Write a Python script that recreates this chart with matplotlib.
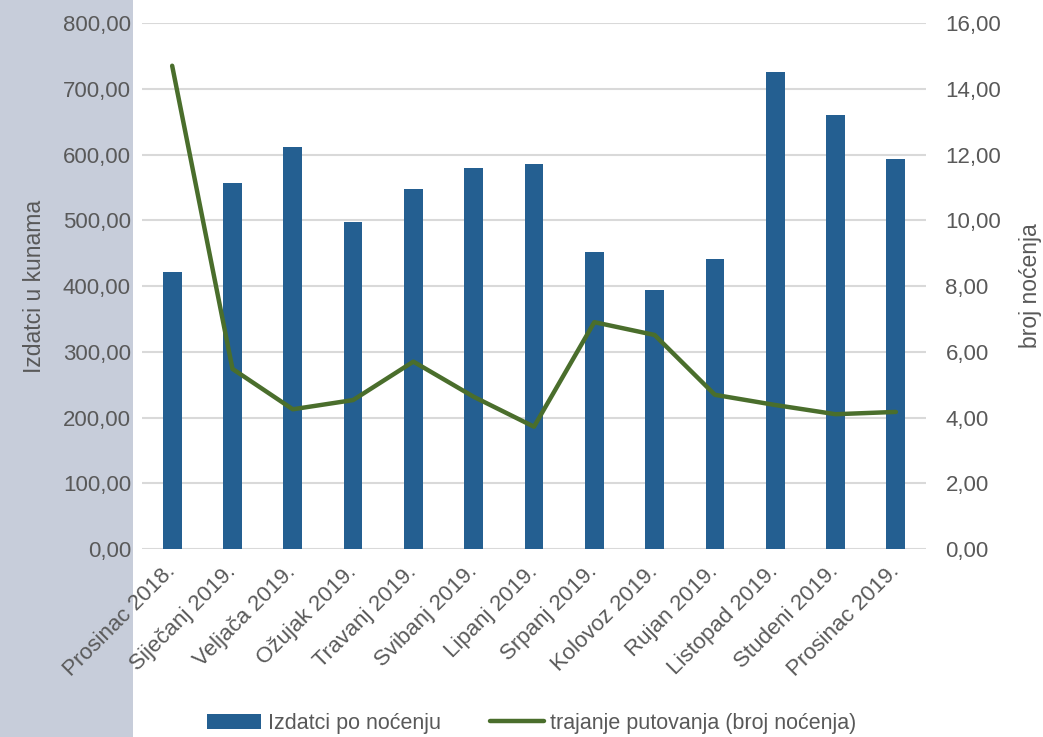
import numpy as np
import matplotlib.pyplot as plt
from matplotlib.patches import Rectangle
from matplotlib.ticker import FuncFormatter

# --- data ---
months = ["Prosinac 2018.", "Siječanj 2019.", "Veljača 2019.", "Ožujak 2019.",
          "Travanj 2019.", "Svibanj 2019.", "Lipanj 2019.", "Srpanj 2019.",
          "Kolovoz 2019.", "Rujan 2019.", "Listopad 2019.", "Studeni 2019.",
          "Prosinac 2019."]
izdatci = [421, 557, 611, 497, 548, 580, 585, 451, 394, 441, 726, 660, 593]
trajanje = [14.70, 5.48, 4.25, 4.53, 5.70, 4.63, 3.72, 6.90, 6.51, 4.69, 4.38, 4.10, 4.17]

bar_color = "#245F91"
line_color = "#4A6E2C"
text_color = "#595959"
grid_color = "#D9D9D9"

plt.rcParams['font.family'] = ['Liberation Sans', 'DejaVu Sans']

fig = plt.figure(figsize=(10.43, 7.37), dpi=100)
fig.add_artist(Rectangle((0, 0), 133 / 1043, 1, transform=fig.transFigure,
                         facecolor="#C7CDDA", edgecolor="none", zorder=-10))

ax = fig.add_axes([142 / 1043, 1 - 549 / 737, (926 - 142) / 1043, (549 - 23) / 737])
ax.set_facecolor("none")
ax2 = ax.twinx()

x = np.arange(len(months))
ax.bar(x, izdatci, width=0.31, color=bar_color, label="Izdatci po noćenju", zorder=2)
ax2.plot(x, trajanje, color=line_color, linewidth=3.2, solid_capstyle='round',
         label="trajanje putovanja (broj noćenja)")

ax.set_xlim(-0.5, len(months) - 0.5)
ax.set_ylim(0, 800)
ax2.set_ylim(0, 16)
ax.set_yticks(np.arange(0, 801, 100))
ax2.set_yticks(np.arange(0, 17, 2))

comma = FuncFormatter(lambda v, p: f"{v:.2f}".replace(".", ","))
ax.yaxis.set_major_formatter(comma)
ax2.yaxis.set_major_formatter(comma)

ax.grid(axis='y', color=grid_color, linewidth=1.5, zorder=0)
ax.set_axisbelow(True)
for a in (ax, ax2):
    for s in a.spines.values():
        s.set_visible(False)
    a.tick_params(length=0, labelsize=16, colors=text_color)
ax.tick_params(axis='y', pad=8)
ax2.tick_params(axis='y', pad=14)

ax.set_xticks(x)
ax.set_xticklabels(months, rotation=45, ha='right', va='center',
                   rotation_mode='anchor', fontsize=16)
ax.tick_params(axis='x', pad=14)

ax.set_ylabel("Izdatci u kunama", fontsize=16.5, color=text_color, va='center', ha='center')
ax2.set_ylabel("broj noćenja", fontsize=16.5, color=text_color, va='center', ha='center')
ax.yaxis.set_label_coords(-0.1365, 0.5)
ax2.yaxis.set_label_coords(1.1327, 0.5)

h1, l1 = ax.get_legend_handles_labels()
h2, l2 = ax2.get_legend_handles_labels()
fig.legend(h1 + h2, l1 + l2, loc='lower center', bbox_to_anchor=(0.51, -0.022),
           ncol=2, frameon=False, fontsize=15.5, labelcolor=text_color,
           handlelength=2.5, handletextpad=0.3, columnspacing=2.3)

fig.savefig("out.png", dpi=100)
